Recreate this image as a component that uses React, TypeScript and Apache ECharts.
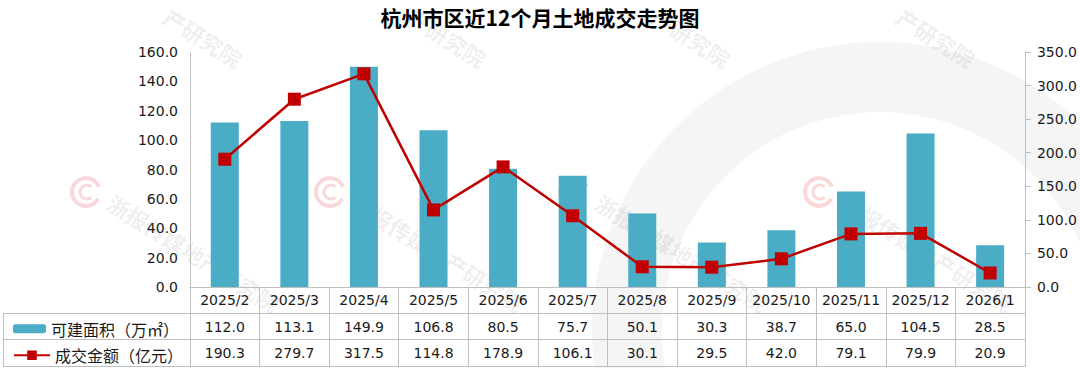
import React, { useEffect, useRef } from "react";
import * as echarts from "echarts";

const title = "杭州市区近12个月土地成交走势图";
const categories = ["2025/2", "2025/3", "2025/4", "2025/5", "2025/6", "2025/7", "2025/8", "2025/9", "2025/10", "2025/11", "2025/12", "2026/1"];
const areaName = "可建面积（万㎡）";
const amountName = "成交金额（亿元）";
const area = [112.0, 113.1, 149.9, 106.8, 80.5, 75.7, 50.1, 30.3, 38.7, 65.0, 104.5, 28.5];
const amount = [190.3, 279.7, 317.5, 114.8, 178.9, 106.1, 30.1, 29.5, 42.0, 79.1, 79.9, 20.9];
const leftAxis = { min: 0, max: 160, interval: 20 };
const rightAxis = { min: 0, max: 350, interval: 50 };
const watermarkText = "浙报传媒地产研究院";
const watermarkTail = "产研究院";

const CJK = "'Noto Sans CJK SC', sans-serif";
const NUM = "'DejaVu Sans', 'Noto Sans CJK SC', sans-serif";
const GRID = { left: 190, right: 55, top: 52, bottom: 81 };
const W = 1080;
const H = 368;
const ROW = 26.5;
const LINE_C = "#bfbfbf";
const TXT = "#1a1a1a";

function buildGraphic() {
  const g: any[] = [];
  g.push({
    type: "ring",
    silent: true,
    z: 0,
    shape: { cx: 880, cy: 330, r: 288, r0: 218 },
    style: { fill: "rgba(0,0,0,0.04)" },
  });
  const xs = [86, 330, 574, 819];
  xs.forEach((x) => {
    const y = 192;
    g.push({
      type: "arc",
      silent: true,
      z: 0,
      shape: { cx: x, cy: y, r: 14, startAngle: 0.5, endAngle: 5.9 },
      style: { stroke: "rgba(220,60,60,0.2)", lineWidth: 4, fill: "none" },
    });
    g.push({
      type: "arc",
      silent: true,
      z: 0,
      shape: { cx: x + 1, cy: y, r: 7, startAngle: 0.9, endAngle: 5.4 },
      style: { stroke: "rgba(220,60,60,0.2)", lineWidth: 3, fill: "none" },
    });
    g.push({
      type: "text",
      silent: true,
      z: 0,
      x: x + 24,
      y: y + 8,
      rotation: -0.56,
      style: {
        text: watermarkText,
        fill: "rgba(0,0,0,0.08)",
        font: `bold 22px ${CJK}`,
        align: "left",
        verticalAlign: "middle",
      },
    });
    g.push({
      type: "text",
      silent: true,
      z: 0,
      x: x + 80,
      y: 14,
      rotation: -0.56,
      style: {
        text: watermarkTail,
        fill: "rgba(0,0,0,0.08)",
        font: `bold 22px ${CJK}`,
        align: "left",
        verticalAlign: "middle",
      },
    });
  });
  const y0 = H - GRID.bottom;
  const xr = W - GRID.right;
  [1, 2, 3].forEach((i) => {
    const y = Math.round(y0 + ROW * i) - 0.5;
    g.push({
      type: "line",
      silent: true,
      z: 5,
      shape: { x1: 3, y1: y, x2: xr, y2: y },
      style: { stroke: LINE_C, lineWidth: 1 },
    });
  });
  g.push({
    type: "line",
    silent: true,
    z: 5,
    shape: { x1: 3.5, y1: Math.round(y0 + ROW) - 0.5, x2: 3.5, y2: Math.round(y0 + ROW * 3) - 0.5 },
    style: { stroke: LINE_C, lineWidth: 1 },
  });
  return g;
}

export default function App() {
  const ref = useRef<HTMLDivElement>(null);
  useEffect(() => {
    if (!ref.current) return;
    const chart = echarts.init(ref.current, null, { renderer: "svg" });
    const legendText = { fontSize: 16, color: TXT, lineHeight: 18, fontFamily: CJK };
    const y0 = H - GRID.bottom;
    const option: any = {
      animation: false,
      backgroundColor: "#ffffff",
      textStyle: { fontFamily: NUM },
      title: {
        text: title,
        left: "center",
        top: 1,
        textStyle: { fontSize: 21, fontWeight: "bold", color: "#000", fontFamily: CJK },
      },
      legend: [
        {
          left: 8,
          top: y0 + ROW * 1.5 - 12,
          itemWidth: 33,
          itemHeight: 9,
          itemGap: 10,
          data: [areaName],
          textStyle: legendText,
        },
        {
          left: 8,
          top: y0 + ROW * 2.5 - 12,
          itemWidth: 36,
          itemHeight: 12,
          itemGap: 10,
          data: [amountName],
          textStyle: legendText,
        },
      ],
      grid: { left: GRID.left, right: GRID.right, top: GRID.top, bottom: GRID.bottom, containLabel: false },
      xAxis: {
        type: "category",
        data: categories,
        boundaryGap: true,
        axisLine: { show: true, lineStyle: { color: LINE_C, width: 1 } },
        axisTick: { show: true, length: ROW * 3, lineStyle: { color: LINE_C, width: 1 } },
        axisLabel: {
          interval: 0,
          margin: 0,
          fontSize: 14,
          color: TXT,
          lineHeight: ROW,
          fontFamily: NUM,
          formatter: (v: string, i: number) => `${v}\n${area[i].toFixed(1)}\n${amount[i].toFixed(1)}`,
        },
      },
      yAxis: [
        {
          type: "value",
          min: leftAxis.min,
          max: leftAxis.max,
          interval: leftAxis.interval,
          axisLine: { show: true, lineStyle: { color: LINE_C, width: 1 } },
          axisTick: { show: false },
          splitLine: { show: false },
          axisLabel: {
            margin: 12,
            fontSize: 14,
            color: TXT,
            fontFamily: NUM,
            formatter: (v: number) => v.toFixed(1),
          },
        },
        {
          type: "value",
          position: "right",
          min: rightAxis.min,
          max: rightAxis.max,
          interval: rightAxis.interval,
          axisLine: { show: true, lineStyle: { color: LINE_C, width: 1 } },
          axisTick: { show: true, inside: false, length: 6, lineStyle: { color: LINE_C } },
          splitLine: { show: false },
          axisLabel: {
            margin: 12,
            fontSize: 14,
            color: TXT,
            fontFamily: NUM,
            formatter: (v: number) => v.toFixed(1),
          },
        },
      ],
      series: [
        {
          name: areaName,
          type: "bar",
          data: area,
          barWidth: 28,
          yAxisIndex: 0,
          itemStyle: { color: "#4BACC6" },
          z: 2,
        },
        {
          name: amountName,
          type: "line",
          data: amount,
          yAxisIndex: 1,
          symbol: "rect",
          symbolSize: 13,
          lineStyle: { color: "#C00000", width: 2.5 },
          itemStyle: { color: "#C00000" },
          z: 3,
        },
      ],
      graphic: buildGraphic(),
    };
    chart.setOption(option);
    return () => chart.dispose();
  }, []);
  return (
    <div
      ref={ref}
      style={{ position: "fixed", left: 0, top: 0, width: W, height: H, background: "#fff" }}
    />
  );
}
